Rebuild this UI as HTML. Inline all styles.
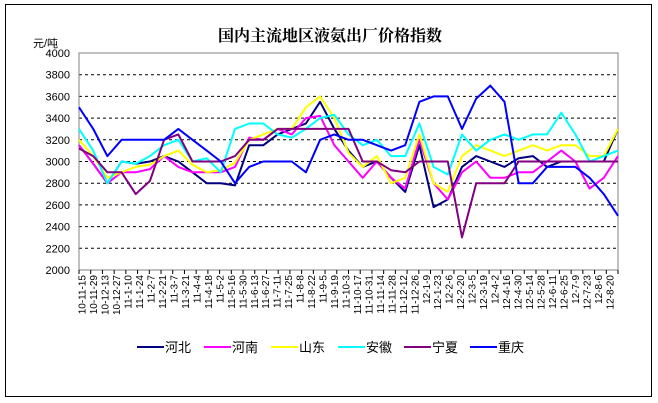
<!DOCTYPE html>
<html><head><meta charset="utf-8">
<style>
html,body{margin:0;padding:0;background:#fff;}
svg{display:block;font-family:"Liberation Sans","Noto Sans CJK SC",sans-serif;}
</style></head>
<body>
<svg id="chart" width="658" height="403" viewBox="0 0 658 403" xmlns="http://www.w3.org/2000/svg">
  <rect x="5.5" y="4.5" width="646" height="392" fill="#fff" stroke="#000" stroke-width="1"/>
  <text x="330" y="41" text-anchor="middle" font-size="16" font-weight="bold" font-family="'Noto Serif CJK SC','Noto Sans CJK SC',serif">国内主流地区液氨出厂价格指数</text>
  <text x="33" y="47" font-size="11" font-family="'Liberation Sans','Noto Sans CJK SC',sans-serif">元/吨</text>
  <g id="grid"></g>
  <rect x="79" y="53" width="539" height="217" fill="none" stroke="#808080" stroke-width="1"/>
  <g id="yticks"></g>
  <g id="xticks"></g>
  <g id="series"></g>
  <g id="legend"></g>
</svg>
<script>
const categories = ["10-11-15","10-11-29","10-12-13","10-12-27","11-1-10","11-1-24","11-2-7","11-2-21","11-3-7","11-3-21","11-4-4","11-4-18","11-5-2","11-5-16","11-5-30","11-6-13","11-6-27","11-7-11","11-7-25","11-8-8","11-8-22","11-9-5","11-9-19","11-10-3","11-10-17","11-10-31","11-11-14","11-11-28","11-12-12","11-12-26","12-1-9","12-1-23","12-2-6","12-2-20","12-3-5","12-3-19","12-4-2","12-4-16","12-4-30","12-5-14","12-5-28","12-6-11","12-6-25","12-7-9","12-7-23","12-8-6","12-8-20"];
const yTicks = [2000,2200,2400,2600,2800,3000,3200,3400,3600,3800,4000];
const seriesNames = ["河北","河南","山东","安徽","宁夏","重庆"];
const seriesColors = ["#000080","#ff00ff","#ffff00","#00ffff","#800080","#0000ff"];
const hebei = [3150,2980,2800,3000,2980,3000,3050,3000,2900,2800,2800,2780,3150,3150,3250,3300,3350,3550,3300,3100,2950,3000,2850,2720,3150,2580,2650,2950,3050,3000,2950,3030,3050,2950,3000,3000,3000,3000,3300];
const henan = [3150,2980,2800,2900,2900,2930,3050,2950,2900,2900,2900,2950,3220,3200,3300,3250,3400,3420,3150,3000,2850,3000,2850,2750,3200,2800,2650,2900,3000,2850,2850,2900,2900,3000,3100,3000,2750,2850,3050];
const shandong = [3200,3050,2850,2900,2950,2970,3050,3100,2970,2900,2920,2990,3200,3250,3300,3300,3500,3600,3400,3080,2950,3050,2800,2850,3250,2800,2720,3050,3150,3100,3050,3100,3150,3100,3150,3150,3050,3050,3300];
const anhui = [3300,3100,2800,3000,2980,3050,3150,3200,3000,3030,2900,3300,3350,3350,3250,3220,3300,3400,3430,3250,3150,3200,3050,3050,3350,2950,2880,3250,3100,3200,3250,3200,3250,3250,3450,3250,3000,3050,3100];
const ningxia = [3120,3050,2900,2900,2700,2820,3200,3250,3000,3000,3000,3050,3200,3200,3300,3300,3300,3300,3300,3300,3000,3000,2920,2900,3000,3000,3000,2300,2800,2800,2800,3000,3000,3000,3000,3000,3000,3000,3000];
const chongqing = [3500,3300,3050,3200,3200,3200,3200,3300,3200,3100,3000,2800,2950,3000,3000,3000,2900,3200,3250,3200,3200,3150,3100,3150,3550,3600,3600,3300,3580,3700,3550,2800,2800,2950,2950,2950,2850,2700,2500];
const allSeries = [hebei,henan,shandong,anhui,ningxia,chongqing];
const seriesKeys = ["hebei","henan","shandong","anhui","ningxia","chongqing"];

const NS="http://www.w3.org/2000/svg";
const PX0=79, PX1=618, PY0=53, PY1=270, YMIN=2000, YMAX=4000;
function yScale(v){return PY1-(v-YMIN)/(YMAX-YMIN)*(PY1-PY0);}
function xScale(i,n){return PX0+i*(PX1-PX0)/(n-1);}
function mk(tag,attrs,parent){const e=document.createElementNS(NS,tag);for(const k in attrs)e.setAttribute(k,attrs[k]);parent.appendChild(e);return e;}

const grid=document.getElementById('grid');
const yt=document.getElementById('yticks');
yTicks.forEach(v=>{
  const y=yScale(v);
  if(v>YMIN&&v<YMAX){
    const l=mk('line',{x1:PX0,x2:PX1,y1:y,y2:y,stroke:'#000','stroke-width':1,'stroke-dasharray':'3,3'},grid);
    
    
  }
  const t=mk('text',{x:70,y:y+4,'text-anchor':'end','font-size':11},yt);
  
  
  t.textContent=v;
});

const xt=document.getElementById('xticks');
const nT=46;
for(let i=0;i<=nT;i++){
  const x=PX0+i*(PX1-PX0)/nT;
  const l=mk('line',{x1:x,x2:x,y1:PY1,y2:PY1+4,stroke:'#000','stroke-width':1},xt);
  
  
}
categories.forEach((c,i)=>{
  const x=PX0+(i+0.5)*(PX1-PX0)/categories.length+1;
  const t=mk('text',{transform:`translate(${x},${PY1+5}) rotate(-90)`,'text-anchor':'end','font-size':10},xt);
  
  
  t.textContent=c;
});

const sg=document.getElementById('series');
allSeries.forEach((arr,s)=>{
  const pts=arr.map((v,i)=>xScale(i,arr.length).toFixed(1)+','+yScale(v).toFixed(1)).join(' ');
  const p=mk('polyline',{points:pts,fill:'none',stroke:seriesColors[s],'stroke-width':2,'stroke-linejoin':'round'},sg);
  
  
});

const lg=document.getElementById('legend');
const legX=[137,204,271,338,404,470];
seriesNames.forEach((n,s)=>{
  const g=mk('g',{},lg);
  
  
  mk('line',{x1:legX[s],x2:legX[s]+27,y1:347,y2:347,stroke:seriesColors[s],'stroke-width':2},g);
  const t=mk('text',{x:legX[s]+28,y:352,'font-size':13},g);
  t.textContent=n;
});
</script>
</body></html>
